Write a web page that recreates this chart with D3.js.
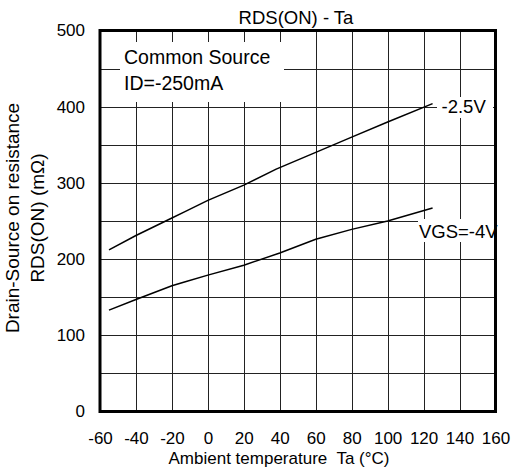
<!DOCTYPE html>
<html>
<head>
<meta charset="utf-8">
<script src="https://cdn.jsdelivr.net/npm/d3@7"></script>
<style>
  body { margin: 0; background: #fff; }
  svg { display: block; font-family: "Liberation Sans", Arial, sans-serif; }
  text { white-space: pre; }
</style>
</head>
<body>
<svg id="chart" width="522" height="475"></svg>
<script>
// ---- data ----
const xTicks = [-60, -40, -20, 0, 20, 40, 60, 80, 100, 120, 140, 160];
const yTicks = [0, 100, 200, 300, 400, 500];
const xGrid = [-40, -20, 0, 20, 40, 60, 80, 100, 120, 140];
const yGrid = [50, 100, 150, 200, 250, 300, 350, 400, 450];
const tempsVgs25 = [-55, -40, -20, -13, 0, 20, 38, 60, 80, 100, 125];
const rdsVgs25   = [212, 231, 254, 262, 277, 297, 318, 340, 360, 380, 404];
const tempsVgs4  = [-55, -40, -20, -13, 0, 20, 40, 60, 80, 100, 125];
const rdsVgs4    = [133, 147, 165, 170, 179, 192, 208, 226, 239, 250, 267];
const seriesLabels = ["-2.5V", "VGS=-4V"];
const titleText = "RDS(ON) - Ta";
const xLabel = "Ambient temperature  Ta (°C)";
const yLabel1 = "Drain-Source on resistance";
const yLabel2 = "RDS(ON) (mΩ)";
const noteLines = ["Common Source", "ID=-250mA"];

// ---- layout ----
const svg = d3.select("#chart");
const L = 100, R = 495.5, T = 30.5, B = 411.5;
const x = d3.scaleLinear().domain([-60, 160]).range([L, R]);
const y = d3.scaleLinear().domain([0, 500]).range([B, T]);

// grid
const g = svg.append("g");
g.selectAll("line.v").data(xGrid).join("line")
  .attr("x1", d => Math.round(x(d)) + 0.5).attr("x2", d => Math.round(x(d)) + 0.5)
  .attr("y1", T).attr("y2", B)
  .attr("stroke", "#222").attr("stroke-width", 1);
g.selectAll("line.h").data(yGrid).join("line")
  .attr("y1", d => Math.round(y(d)) + 0.5).attr("y2", d => Math.round(y(d)) + 0.5)
  .attr("x1", L).attr("x2", R)
  .attr("stroke", "#222").attr("stroke-width", 1);

// white boxes behind annotations
svg.append("rect").attr("x", 120).attr("y", 42).attr("width", 164).attr("height", 60).attr("fill", "#fff");
svg.append("rect").attr("x", 437).attr("y", 97).attr("width", 56).attr("height", 21).attr("fill", "#fff");
svg.append("rect").attr("x", 418).attr("y", 219).attr("width", 78).attr("height", 23).attr("fill", "#fff");

// lines
const line = d3.line().x(d => x(d[0])).y(d => y(d[1]));
const s25 = tempsVgs25.map((t, i) => [t, rdsVgs25[i]]);
const s4 = tempsVgs4.map((t, i) => [t, rdsVgs4[i]]);
[s25, s4].forEach(s => {
  svg.append("path").datum(s).attr("d", line)
    .attr("fill", "none").attr("stroke", "#000").attr("stroke-width", 1.5);
});

// axes (labels only)
const xa = svg.append("g").attr("transform", `translate(0,${B})`)
  .call(d3.axisBottom(x).tickValues(xTicks).tickSize(0).tickPadding(20.5).tickFormat(d => String(d)));
const ya = svg.append("g").attr("transform", `translate(${L},0)`)
  .call(d3.axisLeft(y).tickValues(yTicks).tickSize(0).tickPadding(15).tickFormat(d => String(d)));
[xa, ya].forEach(a => {
  a.select(".domain").remove();
  a.selectAll("text").attr("font-size", 17).attr("fill", "#000")
    .attr("font-family", "Liberation Sans, Arial, sans-serif");
});

// texts
svg.append("text").attr("x", 296).attr("y", 24).attr("text-anchor", "middle")
  .attr("font-size", 18.5).text(titleText);
svg.append("text").attr("x", 279).attr("y", 464).attr("text-anchor", "middle")
  .attr("font-size", 17).text(xLabel);
svg.append("text").attr("transform", "translate(19,218) rotate(-90)").attr("text-anchor", "middle")
  .attr("font-size", 19).text(yLabel1);
svg.append("text").attr("transform", "translate(44,218) rotate(-90)").attr("text-anchor", "middle")
  .attr("font-size", 19).text(yLabel2);
noteLines.forEach((t, i) => {
  svg.append("text").attr("x", 124).attr("y", 64 + i * 26).attr("font-size", 19.5).text(t);
});
svg.append("text").attr("x", 441.5).attr("y", 113).attr("font-size", 18.5).text(seriesLabels[0]);
svg.append("text").attr("x", 419).attr("y", 238.3).attr("font-size", 18.5).text(seriesLabels[1]);

// frame
svg.append("rect").attr("x", L).attr("y", T).attr("width", R - L).attr("height", B - T)
  .attr("fill", "none").attr("stroke", "#000").attr("stroke-width", 3);
</script>
</body>
</html>
